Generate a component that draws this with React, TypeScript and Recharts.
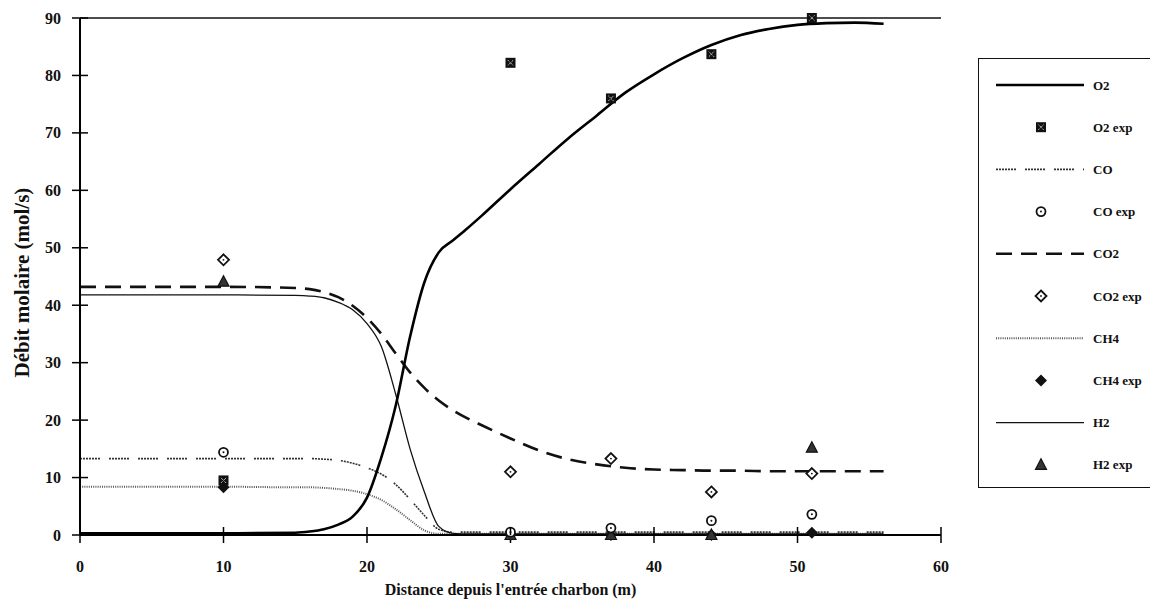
import React from 'react';
import { ComposedChart, Line, Scatter, XAxis, YAxis, ReferenceLine, Label } from 'recharts';

// model curves, all sampled on the same distance grid (m)
const distance = [0, 5, 10, 15, 16, 17, 18, 19, 20, 21, 22, 23, 24, 25, 26, 27, 28, 30, 32, 34, 36, 38, 40, 42, 44, 46, 48, 50, 52, 54, 56];
const o2Model = [0.3, 0.3, 0.3, 0.4, 0.6, 1.0, 1.8, 3.2, 6.5, 13.5, 22.5, 34.5, 44, 49.2, 51.3, 53.4, 55.6, 60.2, 64.6, 69, 73, 77, 80.2, 83, 85.3, 87, 88.1, 88.8, 89.1, 89.2, 89.0];
const coModel = [13.3, 13.3, 13.3, 13.3, 13.3, 13.2, 13.0, 12.5, 11.7, 10.6, 8.8, 6.2, 3.4, 1.0, 0.5, 0.5, 0.5, 0.5, 0.5, 0.5, 0.5, 0.5, 0.5, 0.5, 0.5, 0.5, 0.5, 0.5, 0.5, 0.5, 0.5];
const co2Model = [43.2, 43.2, 43.2, 43.0, 42.8, 42.3, 41.4, 39.9, 37.8, 35.0, 31.6, 28.3, 25.6, 23.4, 21.7, 20.3, 19.1, 16.8, 14.7, 13.2, 12.3, 11.7, 11.4, 11.3, 11.2, 11.2, 11.1, 11.1, 11.1, 11.1, 11.1];
const ch4Model = [8.4, 8.4, 8.4, 8.3, 8.3, 8.2, 8.0, 7.7, 7.1, 6.1, 4.5, 2.6, 0.8, 0.2, 0.2, 0.2, 0.2, 0.2, 0.2, 0.2, 0.2, 0.2, 0.2, 0.2, 0.2, 0.2, 0.2, 0.2, 0.2, 0.2, 0.2];
const h2Model = [41.8, 41.8, 41.8, 41.7, 41.6, 41.3, 40.5, 39.2, 36.8, 32.8, 24.5, 15.0, 7.5, 1.5, 0.3, 0.2, 0.2, 0.2, 0.2, 0.2, 0.2, 0.2, 0.2, 0.2, 0.2, 0.2, 0.2, 0.2, 0.2, 0.2, 0.2];

// measurements
const expDistance = [10, 30, 37, 44, 51];
const o2Exp = [9.5, 82.2, 76, 83.7, 90];
const coExp = [14.4, 0.5, 1.2, 2.5, 3.6];
const co2Exp = [47.9, 11.0, 13.3, 7.5, 10.7];
const ch4Exp = [8.3, 0, 0, 0, 0.4];
const h2Exp = [44.1, 0, 0, 0, 15.2];

const xTicks = [0, 10, 20, 30, 40, 50, 60];
const yTicks = [0, 10, 20, 30, 40, 50, 60, 70, 80, 90];

const FONT = '"Liberation Serif", "DejaVu Serif", serif';

const toPoints = (xs: number[], ys: number[]) => xs.map((x, i) => ({ x, y: ys[i] }));

type MarkerKind = 'square' | 'circle' | 'diamond' | 'filledDiamond' | 'triangle';

function marker(kind: MarkerKind, cx: number, cy: number) {
  switch (kind) {
    case 'square':
      return (
        <g>
          <rect x={cx - 5} y={cy - 5} width={10} height={10} fill="#111" />
          <path d={`M${cx - 2.5},${cy - 2.5}L${cx + 2.5},${cy + 2.5}M${cx + 2.5},${cy - 2.5}L${cx - 2.5},${cy + 2.5}`} stroke="#fff" strokeWidth={1} strokeDasharray="1 1" />
        </g>
      );
    case 'circle':
      return (
        <g>
          <circle cx={cx} cy={cy} r={4.5} fill="#fff" stroke="#111" strokeWidth={1.8} />
          <circle cx={cx} cy={cy} r={1} fill="#111" />
        </g>
      );
    case 'diamond':
      return (
        <g>
          <path d={`M${cx},${cy - 5.5}L${cx + 5.5},${cy}L${cx},${cy + 5.5}L${cx - 5.5},${cy}Z`} fill="#fff" stroke="#111" strokeWidth={1.8} />
          <circle cx={cx} cy={cy} r={0.9} fill="#111" />
        </g>
      );
    case 'filledDiamond':
      return <path d={`M${cx},${cy - 6}L${cx + 6},${cy}L${cx},${cy + 6}L${cx - 6},${cy}Z`} fill="#111" />;
    default:
      return <path d={`M${cx},${cy - 6}L${cx + 5.5},${cy + 4.5}L${cx - 5.5},${cy + 4.5}Z`} fill="#333" stroke="#111" strokeWidth={1.2} />;
  }
}

const shapeOf = (kind: MarkerKind) => (p: any) => marker(kind, p.cx, p.cy);

const lineStyles = {
  o2: { stroke: '#000', strokeWidth: 2.6, strokeDasharray: undefined as string | undefined },
  co: { stroke: '#333', strokeWidth: 1.6, strokeDasharray: '2 1 2 1 2 1 2 1 2 1 2 1 2 9' },
  co2: { stroke: '#111', strokeWidth: 2.6, strokeDasharray: '16 9' },
  ch4: { stroke: '#555', strokeWidth: 2, strokeDasharray: '1 1.2' },
  h2: { stroke: '#111', strokeWidth: 1.3, strokeDasharray: undefined as string | undefined },
};

const legendItems: { label: string; line?: keyof typeof lineStyles; marker?: MarkerKind }[] = [
  { label: 'O2', line: 'o2' },
  { label: 'O2 exp', marker: 'square' },
  { label: 'CO', line: 'co' },
  { label: 'CO exp', marker: 'circle' },
  { label: 'CO2', line: 'co2' },
  { label: 'CO2 exp', marker: 'diamond' },
  { label: 'CH4', line: 'ch4' },
  { label: 'CH4 exp', marker: 'filledDiamond' },
  { label: 'H2', line: 'h2' },
  { label: 'H2 exp', marker: 'triangle' },
];

const XTick = ({ x, y, payload }: any) => (
  <g>
    <line x1={x} x2={x} y1={y - 16} y2={y - 8} stroke="#000" strokeWidth={1.5} />
    <text x={x} y={y + 29} textAnchor="middle" fontFamily={FONT} fontWeight="bold" fontSize={16} fill="#111">{payload.value}</text>
  </g>
);

const YTick = ({ x, y, payload }: any) => (
  <g>
    <line x1={x + 8} x2={x + 16} y1={y} y2={y} stroke="#000" strokeWidth={1.5} />
    <text x={x - 11} y={y + 5.5} textAnchor="end" fontFamily={FONT} fontWeight="bold" fontSize={16} fill="#111">{payload.value}</text>
  </g>
);

function LegendBox() {
  return (
    <div style={{ position: 'absolute', left: 970, top: 50, width: 174, height: 428, border: '1.5px solid #111', background: '#fff' }}>
      <svg width={174} height={428}>
        {legendItems.map((item, i) => {
          const cy = 26 + i * 42.2;
          return (
            <g key={item.label}>
              {item.line && (
                <line x1={17} x2={105} y1={cy} y2={cy} {...lineStyles[item.line]} />
              )}
              {item.marker && marker(item.marker, 62, cy)}
              <text x={114} y={cy + 4.5} fontFamily={FONT} fontWeight="bold" fontSize={13} fill="#111">{item.label}</text>
            </g>
          );
        })}
      </svg>
    </div>
  );
}

export default function App() {
  return (
    <div style={{ position: 'relative', width: 1150, height: 603, background: '#fff' }}>
      <ComposedChart width={1150} height={603} margin={{ top: 10, right: 217, left: 7, bottom: 6 }}>
        <XAxis
          type="number"
          dataKey="x"
          domain={[0, 60]}
          ticks={xTicks}
          allowDuplicatedCategory={false}
          axisLine={{ stroke: '#000', strokeWidth: 2 }}
          tickLine={{ stroke: '#000', strokeWidth: 1.5 }}
          tickSize={8}
          tickMargin={0}
          tick={<XTick />}
          height={70}
        >
          <Label value="Distance depuis l'entrée charbon (m)" position="insideBottom" offset={10}
            style={{ fontFamily: FONT, fontWeight: 'bold', fontSize: 16, fill: '#111' }} />
        </XAxis>
        <YAxis
          type="number"
          dataKey="y"
          domain={[0, 90]}
          ticks={yTicks}
          axisLine={{ stroke: '#000', strokeWidth: 2 }}
          tickLine={{ stroke: '#000', strokeWidth: 1.5 }}
          tickSize={8}
          tickMargin={0}
          tick={<YTick />}
          width={65}
        >
          <Label value="Débit molaire (mol/s)" angle={-90} position="insideLeft" offset={7} dx={0} dy={6}
            style={{ fontFamily: FONT, fontWeight: 'bold', fontSize: 21, fill: '#111', textAnchor: 'middle' }} />
        </YAxis>
        <ReferenceLine y={90} stroke="#111" strokeWidth={1.5} ifOverflow="extendDomain" />

        <Line data={toPoints(distance, ch4Model)} dataKey="y" type="monotone" dot={false} activeDot={false} isAnimationActive={false} {...lineStyles.ch4} />
        <Line data={toPoints(distance, coModel)} dataKey="y" type="monotone" dot={false} activeDot={false} isAnimationActive={false} {...lineStyles.co} />
        <Line data={toPoints(distance, h2Model)} dataKey="y" type="monotone" dot={false} activeDot={false} isAnimationActive={false} {...lineStyles.h2} />
        <Line data={toPoints(distance, co2Model)} dataKey="y" type="monotone" dot={false} activeDot={false} isAnimationActive={false} {...lineStyles.co2} />
        <Line data={toPoints(distance, o2Model)} dataKey="y" type="monotone" dot={false} activeDot={false} isAnimationActive={false} {...lineStyles.o2} />

        <Scatter data={toPoints(expDistance, o2Exp)} dataKey="y" shape={shapeOf('square')} isAnimationActive={false} />
        <Scatter data={toPoints(expDistance, ch4Exp)} dataKey="y" shape={shapeOf('filledDiamond')} isAnimationActive={false} />
        <Scatter data={toPoints(expDistance, h2Exp)} dataKey="y" shape={shapeOf('triangle')} isAnimationActive={false} />
        <Scatter data={toPoints(expDistance, coExp)} dataKey="y" shape={shapeOf('circle')} isAnimationActive={false} />
        <Scatter data={toPoints(expDistance, co2Exp)} dataKey="y" shape={shapeOf('diamond')} isAnimationActive={false} />
      </ComposedChart>
      <LegendBox />
    </div>
  );
}
